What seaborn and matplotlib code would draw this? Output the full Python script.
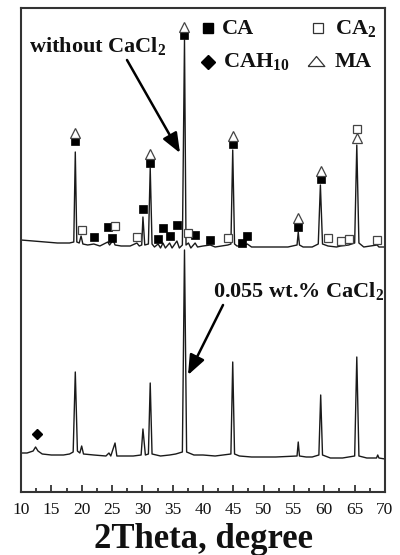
import matplotlib
matplotlib.use("Agg")
import matplotlib.pyplot as plt
import seaborn as sns
import pandas as pd

# ---------------- data (2Theta in degree, intensity in a.u.) ----------------
upper_theta = [10, 12, 14, 16, 18, 18.7, 18.95, 19.2, 19.6, 19.9, 20.2, 21, 22, 23, 24.3, 24.6,
               25.2, 25.5, 26.5, 28, 29.1, 29.5, 29.9, 30.1, 30.4, 31.0, 31.3, 31.6, 32.0, 32.6,
               33.0, 33.4, 33.8, 34.5, 34.9, 35.7, 36.1, 36.6, 36.95, 37.2, 37.6, 38.0, 38.7, 39.1,
               40, 41.2, 42, 44.1, 44.6, 44.9, 45.2, 45.6, 46.4, 47.3, 48, 50, 52, 54, 55.5, 55.7,
               55.9, 56.5, 58, 59.0, 59.35, 59.7, 60.6, 62, 62.7, 64.0, 65.0, 65.35, 65.7, 66.5,
               68.7, 69.0, 70]
upper_int = [252, 251, 250, 249, 249, 250, 340, 250, 249, 256, 248, 247, 248, 246, 250, 247,
             252, 247, 246, 246, 249, 246, 247, 275, 247, 248, 324, 248, 245, 248,
             244, 249, 244, 249, 244, 251, 244, 247, 452, 247, 249, 244, 249, 245,
             246, 247, 245, 247, 248, 342, 248, 246, 246, 248, 245, 245, 245, 245, 247, 260,
             247, 245, 245, 248, 307, 248, 246, 245, 246, 247, 249, 347, 249, 245,
             247, 245, 245]

lower_theta = [10, 11, 12, 12.4, 12.8, 13.5, 15, 17, 18, 18.6, 18.95, 19.3, 19.7, 20.0, 20.3, 22,
               24, 24.5, 24.8, 25.5, 25.8, 27, 28.5, 29.8, 30.1, 30.5, 31.0, 31.3, 31.6, 33, 34.5,
               35.5, 36.6, 36.95, 37.3, 38.5, 40, 42, 44.6, 44.9, 45.2, 46, 48, 50, 52, 55.5, 55.7,
               55.9, 57, 58, 59.1, 59.4, 59.7, 61, 63, 65.0, 65.35, 65.7, 67, 68.6, 68.8, 69.0, 70]
lower_int = [39, 39, 41, 45, 41, 38, 37, 37, 38, 40, 120, 41, 39, 46, 38, 37,
             36, 39, 36, 49, 36, 36, 36, 37, 63, 37, 38, 109, 38, 36, 37,
             38, 40, 242, 40, 37, 37, 36, 38, 130, 38, 36, 35, 35, 35, 36, 50,
             36, 35, 35, 37, 97, 37, 34, 34, 36, 135, 36, 34, 34, 37, 34, 33]

# phase markers (2Theta, height)
ca_theta = [18.95, 22.0, 24.3, 25.0, 30.1, 31.3, 32.6, 33.4, 34.5, 35.7, 36.95, 38.7, 41.2,
            44.9, 46.4, 47.3, 55.7, 59.4]
ca_int = [351, 255, 265, 254, 283, 329, 253, 264, 256, 267, 457, 257, 252,
          348, 249, 256, 265, 313]
ca2_theta = [20.0, 25.5, 29.1, 37.5, 44.1, 60.6, 62.7, 64.0, 65.35, 68.7]
ca2_int = [262, 266, 255, 259, 254, 254, 251, 253, 363, 252]
ma_theta = [18.95, 31.3, 36.95, 44.9, 55.7, 59.4, 65.35]
ma_int = [359, 338, 465, 356, 274, 321, 354]
cah_theta = [12.6]
cah_int = [58]

xticks = [10, 15, 20, 25, 30, 35, 40, 45, 50, 55, 60, 65, 70]

# ---------------- style ----------------
sns.set_theme(style="ticks")
plt.rcParams["font.family"] = ["Liberation Serif", "DejaVu Serif"]
plt.rcParams["mathtext.fontset"] = "custom"
plt.rcParams["mathtext.rm"] = "Liberation Serif"
plt.rcParams["mathtext.bf"] = "Liberation Serif:bold"

fig = plt.figure(figsize=(4.0, 5.55), dpi=100)
ax = fig.add_axes([21 / 400, 63 / 555, 364 / 400, 484 / 555])

df_u = pd.DataFrame({"theta": upper_theta, "I": upper_int})
df_l = pd.DataFrame({"theta": lower_theta, "I": lower_int})
sns.lineplot(data=df_u, x="theta", y="I", ax=ax, color="#1a1a1a", lw=1.0, sort=False,
             estimator=None)
sns.lineplot(data=df_l, x="theta", y="I", ax=ax, color="#1a1a1a", lw=1.0, sort=False,
             estimator=None)

ax.plot(ca_theta, ca_int, ls="none", marker="s", ms=6, mfc="black", mec="black", mew=0.5)
ax.plot(ca2_theta, ca2_int, ls="none", marker="s", ms=6, mfc="white", mec="#444444", mew=0.9)
ax.plot(ma_theta, ma_int, ls="none", marker="^", ms=7, mfc="white", mec="#444444", mew=0.9)
ax.plot(cah_theta, cah_int, ls="none", marker="D", ms=5.6, mfc="black", mec="black")

# legend drawn as text + markers
tri_flat = [(-1, -0.6), (1, -0.6), (0, 0.6), (-1, -0.6)]
ax.plot([40.82], [464], ls="none", marker="s", ms=7.5, mfc="black", mec="black")
ax.plot([58.95], [464], ls="none", marker="s", ms=7.0, mfc="white", mec="#333333", mew=0.9)
ax.plot([40.82], [430], ls="none", marker="D", ms=6.8, mfc="black", mec="black")
ax.plot([58.62], [431], ls="none", marker=tri_flat, ms=12, mfc="white", mec="#333333", mew=0.9)

tkw = dict(fontsize=16, fontweight="bold", va="baseline", ha="left", color="#111111")
ax.text(43.1, 458, "CA", **tkw)
ax.text(61.76, 458, r"CA$_\mathbf{2}$", **tkw)
ax.text(43.3, 425, r"CAH$_\mathbf{10}$", **tkw)
ax.text(61.76, 425, "MA", **tkw)

ax.text(11.32, 440, r"without CaCl$_\mathbf{2}$", **tkw)
ax.text(41.65, 195, r"0.055 wt.% CaCl$_\mathbf{2}$", **tkw)

akw = dict(arrowstyle="-|>,head_length=1.0,head_width=0.4", lw=1.8, color="black",
           shrinkA=0, shrinkB=0)
ax.annotate("", xy=(36.21, 339), xytext=(27.47, 432), arrowprops=akw)
ax.annotate("", xy=(37.53, 117), xytext=(43.3, 187), arrowprops=akw)

ax.set_xlim(10, 70)
ax.set_ylim(0, 484)
ax.set_xticks(xticks)
ax.set_xticks([x + 2.5 for x in xticks[:-1]], minor=True)
ax.set_yticks([])
ax.tick_params(axis="x", which="major", direction="in", length=5, width=1.2, labelsize=12.5,
               pad=7, colors="#222222", labelcolor="#111111")
ax.tick_params(axis="x", which="minor", direction="in", length=3, width=1.2, colors="#222222")
ax.set_xlabel("2Theta, degree", fontsize=25, fontweight="bold", labelpad=4, color="#111111")
ax.set_ylabel("")
for sp in ax.spines.values():
    sp.set_visible(True)
    sp.set_linewidth(1.5)
    sp.set_color("#333333")

fig.savefig("out.png", dpi=100)
